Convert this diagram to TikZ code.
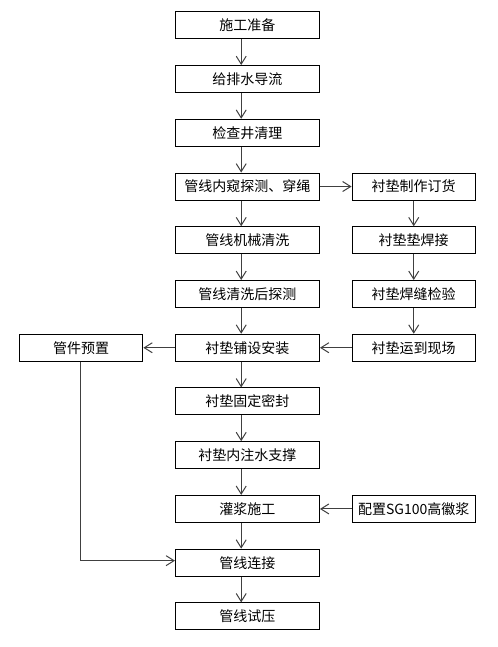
\documentclass[tikz,border=0pt]{standalone}
\usepackage{fontspec}
\newfontfamily\cjk{Noto Sans CJK SC}
\usepackage{tikz}
\usetikzlibrary{arrows.meta,calc,positioning}

\begin{document}
\begin{tikzpicture}[->,>={Straight Barb[length=6pt,width=7.5pt]},color=black!75,line width=0.75pt,node distance=40.3pt,
  box/.style={draw=black,text=black,minimum width=108pt,minimum height=20.25pt,inner sep=0pt,font=\cjk\fontsize{10.5pt}{12pt}\selectfont},
  sidebox/.style={box,minimum width=92.5pt}]
	  \useasboundingbox (0,0) rectangle (373.5pt,-485.25pt);
	  \node[box] (A) at (185.6pt,-19pt) {施工准备};
	  \node[box] (B) [below of=A] {给排水导流};
	  \node[box] (C) [below of=B] {检查井清理};
	  \node[box] (D) [below of=C] {管线内窥探测、穿绳};
	  \node[box] (E) [below of=D] {管线机械清洗};
	  \node[box] (F) [below of=E] {管线清洗后探测};
	  \node[box] (G) [below of=F] {衬垫铺设安装};
	  \node[box] (H) [below of=G] {衬垫固定密封};
	  \node[box] (I) [below of=H] {衬垫内注水支撑};
	  \node[box] (J) [below of=I] {灌浆施工};
	  \node[box] (K) [below of=J] {管线连接};
	  \node[box] (L) [below of=K] {管线试压};
	  \node[sidebox] (D') [right of=D,node distance=124.7pt] {衬垫制作订货};
	  \node[sidebox] (E') [right of=E,node distance=124.7pt] {衬垫垫焊接};
	  \node[sidebox] (F') [right of=F,node distance=124.7pt] {衬垫焊缝检验};
	  \node[sidebox] (G') [right of=G,node distance=124.7pt] {衬垫运到现场};
	  \node[sidebox] (J') [right of=J,node distance=124.7pt] {配置SG100高徽浆};
	  \node[sidebox] (P) [left of=G,node distance=124.7pt] {管件预置};
	  % main line
	  \foreach \a/\b in {A/B,B/C,C/D,D/E,E/F,F/G,G/H,H/I,I/J,J/K,K/L}
	    \draw ([xshift=-4.7pt]\a.south) -- ([xshift=-4.7pt]\b.north);
	  % lining line
	  \foreach \a/\b in {D'/E',E'/F',F'/G'}
	    \draw (\a) -- (\b);
	  \path
(D) edge (D')
(G') edge (G)
(G) edge (P)
(J') edge (J)
;
	  \draw ([xshift=-0.75pt]P.south) |- ([yshift=1.5pt]K.west);
	\end{tikzpicture}
\end{document}
